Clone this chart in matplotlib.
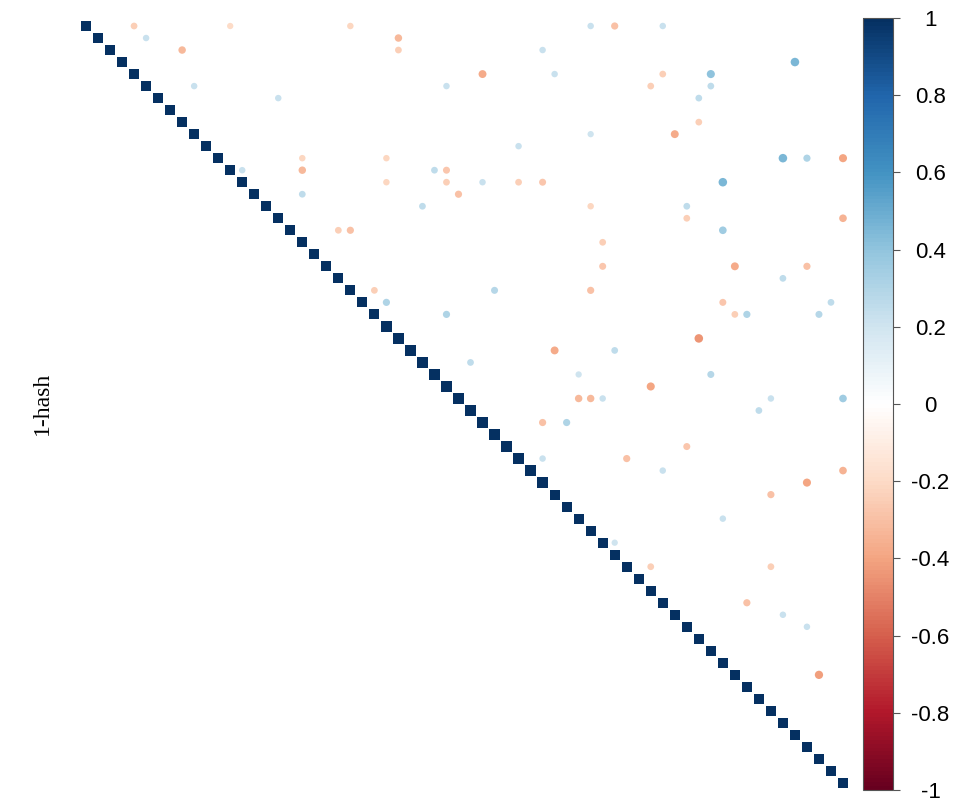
import numpy as np
import matplotlib.pyplot as plt
from matplotlib.colors import LinearSegmentedColormap, Normalize
from matplotlib.colorbar import ColorbarBase

# number of variables in the correlation matrix
n_vars = 64

# non-trivial correlations in the upper triangle (row, column, r)
row_idx = [0, 0, 0, 0, 0, 0,
           1, 1,
           2, 2, 2,
           3,
           4, 4, 4, 4,
           5, 5, 5, 5,
           6, 6,
           8,
           9, 9,
           10,
           11, 11, 11, 11, 11,
           12, 12, 12, 12,
           13, 13, 13, 13, 13, 13,
           14, 14,
           15, 15, 15,
           16, 16,
           17, 17, 17,
           18,
           20, 20, 20,
           21,
           22, 22, 22,
           23, 23, 23,
           24, 24, 24, 24,
           26,
           27, 27,
           28,
           29, 29,
           30,
           31, 31, 31, 31, 31,
           32,
           33, 33,
           35,
           36, 36,
           37, 37,
           38,
           39,
           41,
           43,
           45, 45,
           48,
           49,
           50,
           54]
col_idx = [4, 12, 22, 42, 44, 48,
           5, 26,
           8, 26, 38,
           59,
           33, 39, 48, 52,
           9, 30, 47, 52,
           16, 51,
           51,
           42, 49,
           36,
           18, 25, 58, 60, 63,
           13, 18, 29, 30,
           25, 30, 33, 36, 38, 53,
           18, 31,
           28, 42, 50,
           50, 63,
           21, 22, 53,
           43,
           43, 54, 60,
           58,
           24, 34, 42,
           25, 53, 62,
           30, 54, 55, 61,
           51,
           39, 44,
           32,
           41, 52,
           47,
           41, 42, 43, 57, 63,
           56,
           38, 40,
           50,
           38, 45,
           48, 63,
           60,
           57,
           53,
           44,
           47, 57,
           55,
           58,
           60,
           61]
corr_val = [-0.25, -0.2, -0.22, 0.22, -0.3, 0.22,
            0.22, -0.33,
            -0.33, -0.25, 0.22,
            0.45,
            -0.38, 0.22, -0.25, 0.4,
            0.22, 0.22, -0.25, 0.25,
            0.22, 0.25,
            -0.25,
            0.2, -0.38,
            0.22,
            -0.22, -0.22, 0.45, 0.3, -0.4,
            0.22, -0.33, 0.25, -0.28,
            -0.22, -0.25, 0.22, -0.25, -0.28, 0.45,
            0.25, -0.3,
            0.25, -0.22, 0.25,
            -0.25, -0.35,
            -0.25, -0.3, 0.35,
            -0.25,
            -0.28, -0.38, -0.3,
            0.25,
            -0.25, 0.28, -0.3,
            0.3, -0.28, 0.25,
            0.3, -0.25, 0.3, 0.28,
            -0.45,
            -0.38, 0.25,
            0.25,
            0.2, 0.28,
            -0.4,
            -0.33, -0.33, 0.22, 0.22, 0.35,
            0.25,
            -0.3, 0.3,
            -0.28,
            0.22, -0.3,
            0.22, -0.35,
            -0.4,
            -0.3,
            0.22,
            0.2,
            -0.25, -0.25,
            -0.3,
            0.22,
            0.22,
            -0.42]

cbar_ticks = [1, 0.8, 0.6, 0.4, 0.2, 0, -0.2, -0.4, -0.6, -0.8, -1]

# RdBu palette with a pure white centre
palette = ["#67001F", "#B2182B", "#D6604D", "#F4A582", "#FDDBC7", "#FFFFFF",
           "#D1E5F0", "#92C5DE", "#4393C3", "#2166AC", "#053061"]
cmap = LinearSegmentedColormap.from_list("rdbu_w", palette, N=200)
norm = Normalize(-1, 1)

fig = plt.figure(figsize=(9.59, 8.06), dpi=100)
W, H = 959, 806
ax = fig.add_axes([80 / W, 17 / H, 769 / W, 769 / H])

# diagonal: perfect self-correlation drawn as squares
diag = np.arange(n_vars)
ax.scatter(diag, diag, s=54, marker="s", c=cmap(norm(np.ones(n_vars))),
           edgecolors="none")

# off-diagonal circles, diameter grows slightly with |r|
vals = np.array(corr_val)
diam_px = 4.5 + 9 * np.abs(vals)
sizes = (diam_px * 0.72) ** 2
ax.scatter(col_idx, row_idx, s=sizes, c=cmap(norm(vals)), edgecolors="none")

ax.set_xlim(-0.5, n_vars - 0.5)
ax.set_ylim(n_vars - 0.5, -0.5)
ax.set_xticks([])
ax.set_yticks([])
for sp in ax.spines.values():
    sp.set_visible(False)

fig.text(42 / W, 1 - 403 / H, "1-hash", rotation=90, ha="center", va="center",
         family="Liberation Serif", fontsize=17)

# colour legend
cax = fig.add_axes([863 / W, 16 / H, 30 / W, 772 / H])
cb = ColorbarBase(cax, cmap=cmap, norm=norm, orientation="vertical")
cb.set_ticks(cbar_ticks)
cb.set_ticklabels([f"{t:g}" for t in cbar_ticks])
cb.outline.set_edgecolor("#555555")
cb.outline.set_linewidth(0.8)
cax.tick_params(axis="y", length=5, width=0.8, color="#555555", pad=22,
                labelsize=16)
for lab in cax.get_yticklabels():
    lab.set_family("Liberation Sans")
    lab.set_horizontalalignment("center")

plt.savefig("out.png", dpi=100)
